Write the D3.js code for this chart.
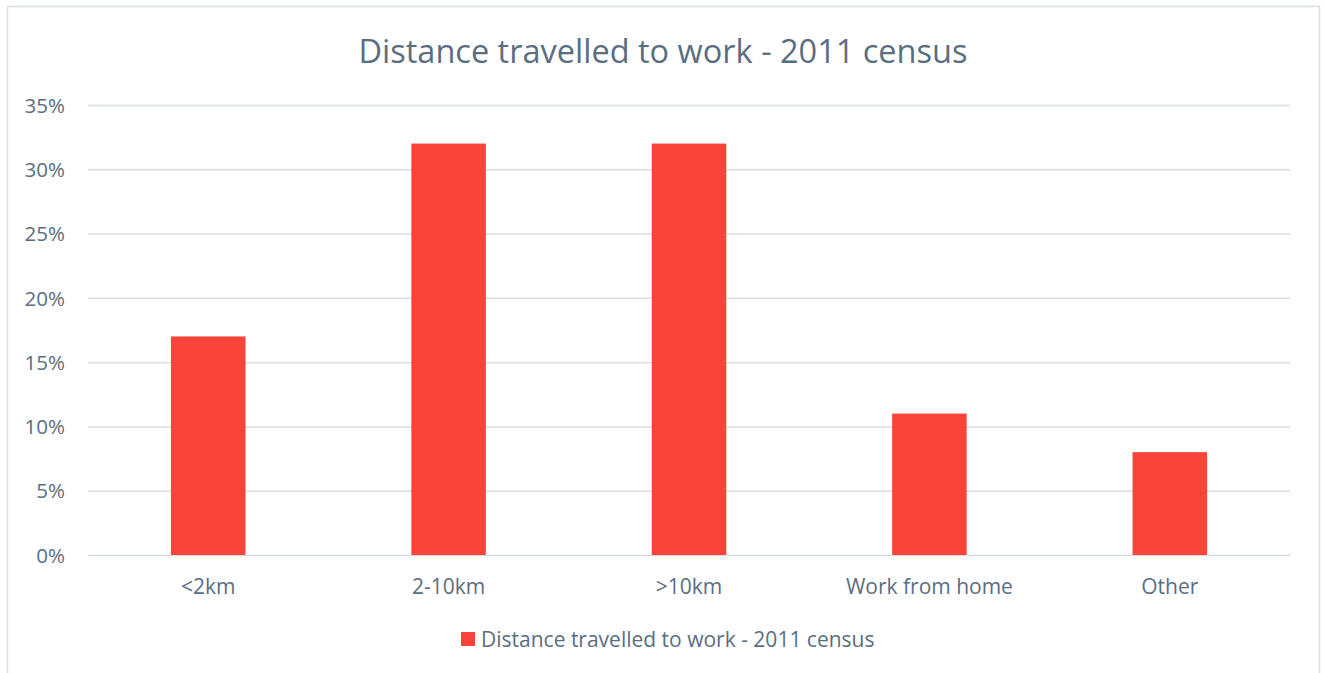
<!DOCTYPE html>
<html>
<head>
<meta charset="utf-8">
<script src="https://cdn.jsdelivr.net/npm/d3@7"></script>
<style>
  html, body { margin: 0; padding: 0; background: #fff; }
  svg { display: block; }
  text { font-family: "Open Sans", Lato, sans-serif; fill: #5A6E82; }
</style>
</head>
<body>
<svg id="chart" width="1325" height="673"></svg>
<script>
const chartTitle = "Distance travelled to work - 2011 census";
const categories = ["<2km", "2-10km", ">10km", "Work from home", "Other"];
const values = [0.17, 0.32, 0.32, 0.11, 0.08];
const yTicks = [0, 0.05, 0.10, 0.15, 0.20, 0.25, 0.30, 0.35];
const seriesName = "Distance travelled to work - 2011 census";

const svg = d3.select("#chart");
const barColor = "#FA4339";
const gridColor = "#D9DEE4";

// chart border
svg.append("rect")
  .attr("x", 7.5).attr("y", 6.5)
  .attr("width", 1312).attr("height", 680)
  .attr("fill", "#fff")
  .attr("stroke", "#D9DEE4").attr("stroke-width", 1.5);

const plot = { left: 88, right: 1290, top: 105, bottom: 555 };

const x = d3.scaleBand()
  .domain(categories)
  .range([plot.left, plot.right])
  .paddingInner(0.69)
  .paddingOuter(0.345);

const y = d3.scaleLinear()
  .domain([0, 0.35])
  .range([plot.bottom, plot.top]);

// gridlines + y labels
const yAxis = d3.axisLeft(y)
  .tickValues(yTicks)
  .tickFormat(d3.format(".0%"))
  .tickSize(-(plot.right - plot.left))
  .tickPadding(23);

const gy = svg.append("g")
  .attr("transform", `translate(${plot.left},0)`)
  .call(yAxis);
gy.select(".domain").remove();
gy.selectAll(".tick line").attr("stroke", gridColor).attr("stroke-width", 1.5);
gy.selectAll(".tick text")
  .style("font-size", "20.5px")
  .attr("fill", "#5A6E82")
  .attr("dy", "0.35em");

// bars
svg.append("g").selectAll("rect")
  .data(values)
  .join("rect")
  .attr("x", (d, i) => x(categories[i]))
  .attr("width", x.bandwidth())
  .attr("y", d => y(d))
  .attr("height", d => y(0) - y(d))
  .attr("fill", barColor);

// x axis labels
const xAxis = d3.axisBottom(x).tickSize(0).tickPadding(24);
const gx = svg.append("g")
  .attr("transform", `translate(0,${plot.bottom})`)
  .call(xAxis);
gx.select(".domain").remove();
gx.selectAll(".tick text")
  .style("font-size", "21px")
  .attr("fill", "#5A6E82");

// title
svg.append("text")
  .attr("x", 663).attr("y", 63)
  .attr("text-anchor", "middle")
  .style("font-size", "32.5px")
  .text(chartTitle);

// legend
const lg = svg.append("g");
lg.append("rect")
  .attr("x", 461).attr("y", 632)
  .attr("width", 14).attr("height", 14)
  .attr("fill", barColor);
lg.append("text")
  .attr("x", 481).attr("y", 647)
  .style("font-size", "21px")
  .text(seriesName);
</script>
</body>
</html>
